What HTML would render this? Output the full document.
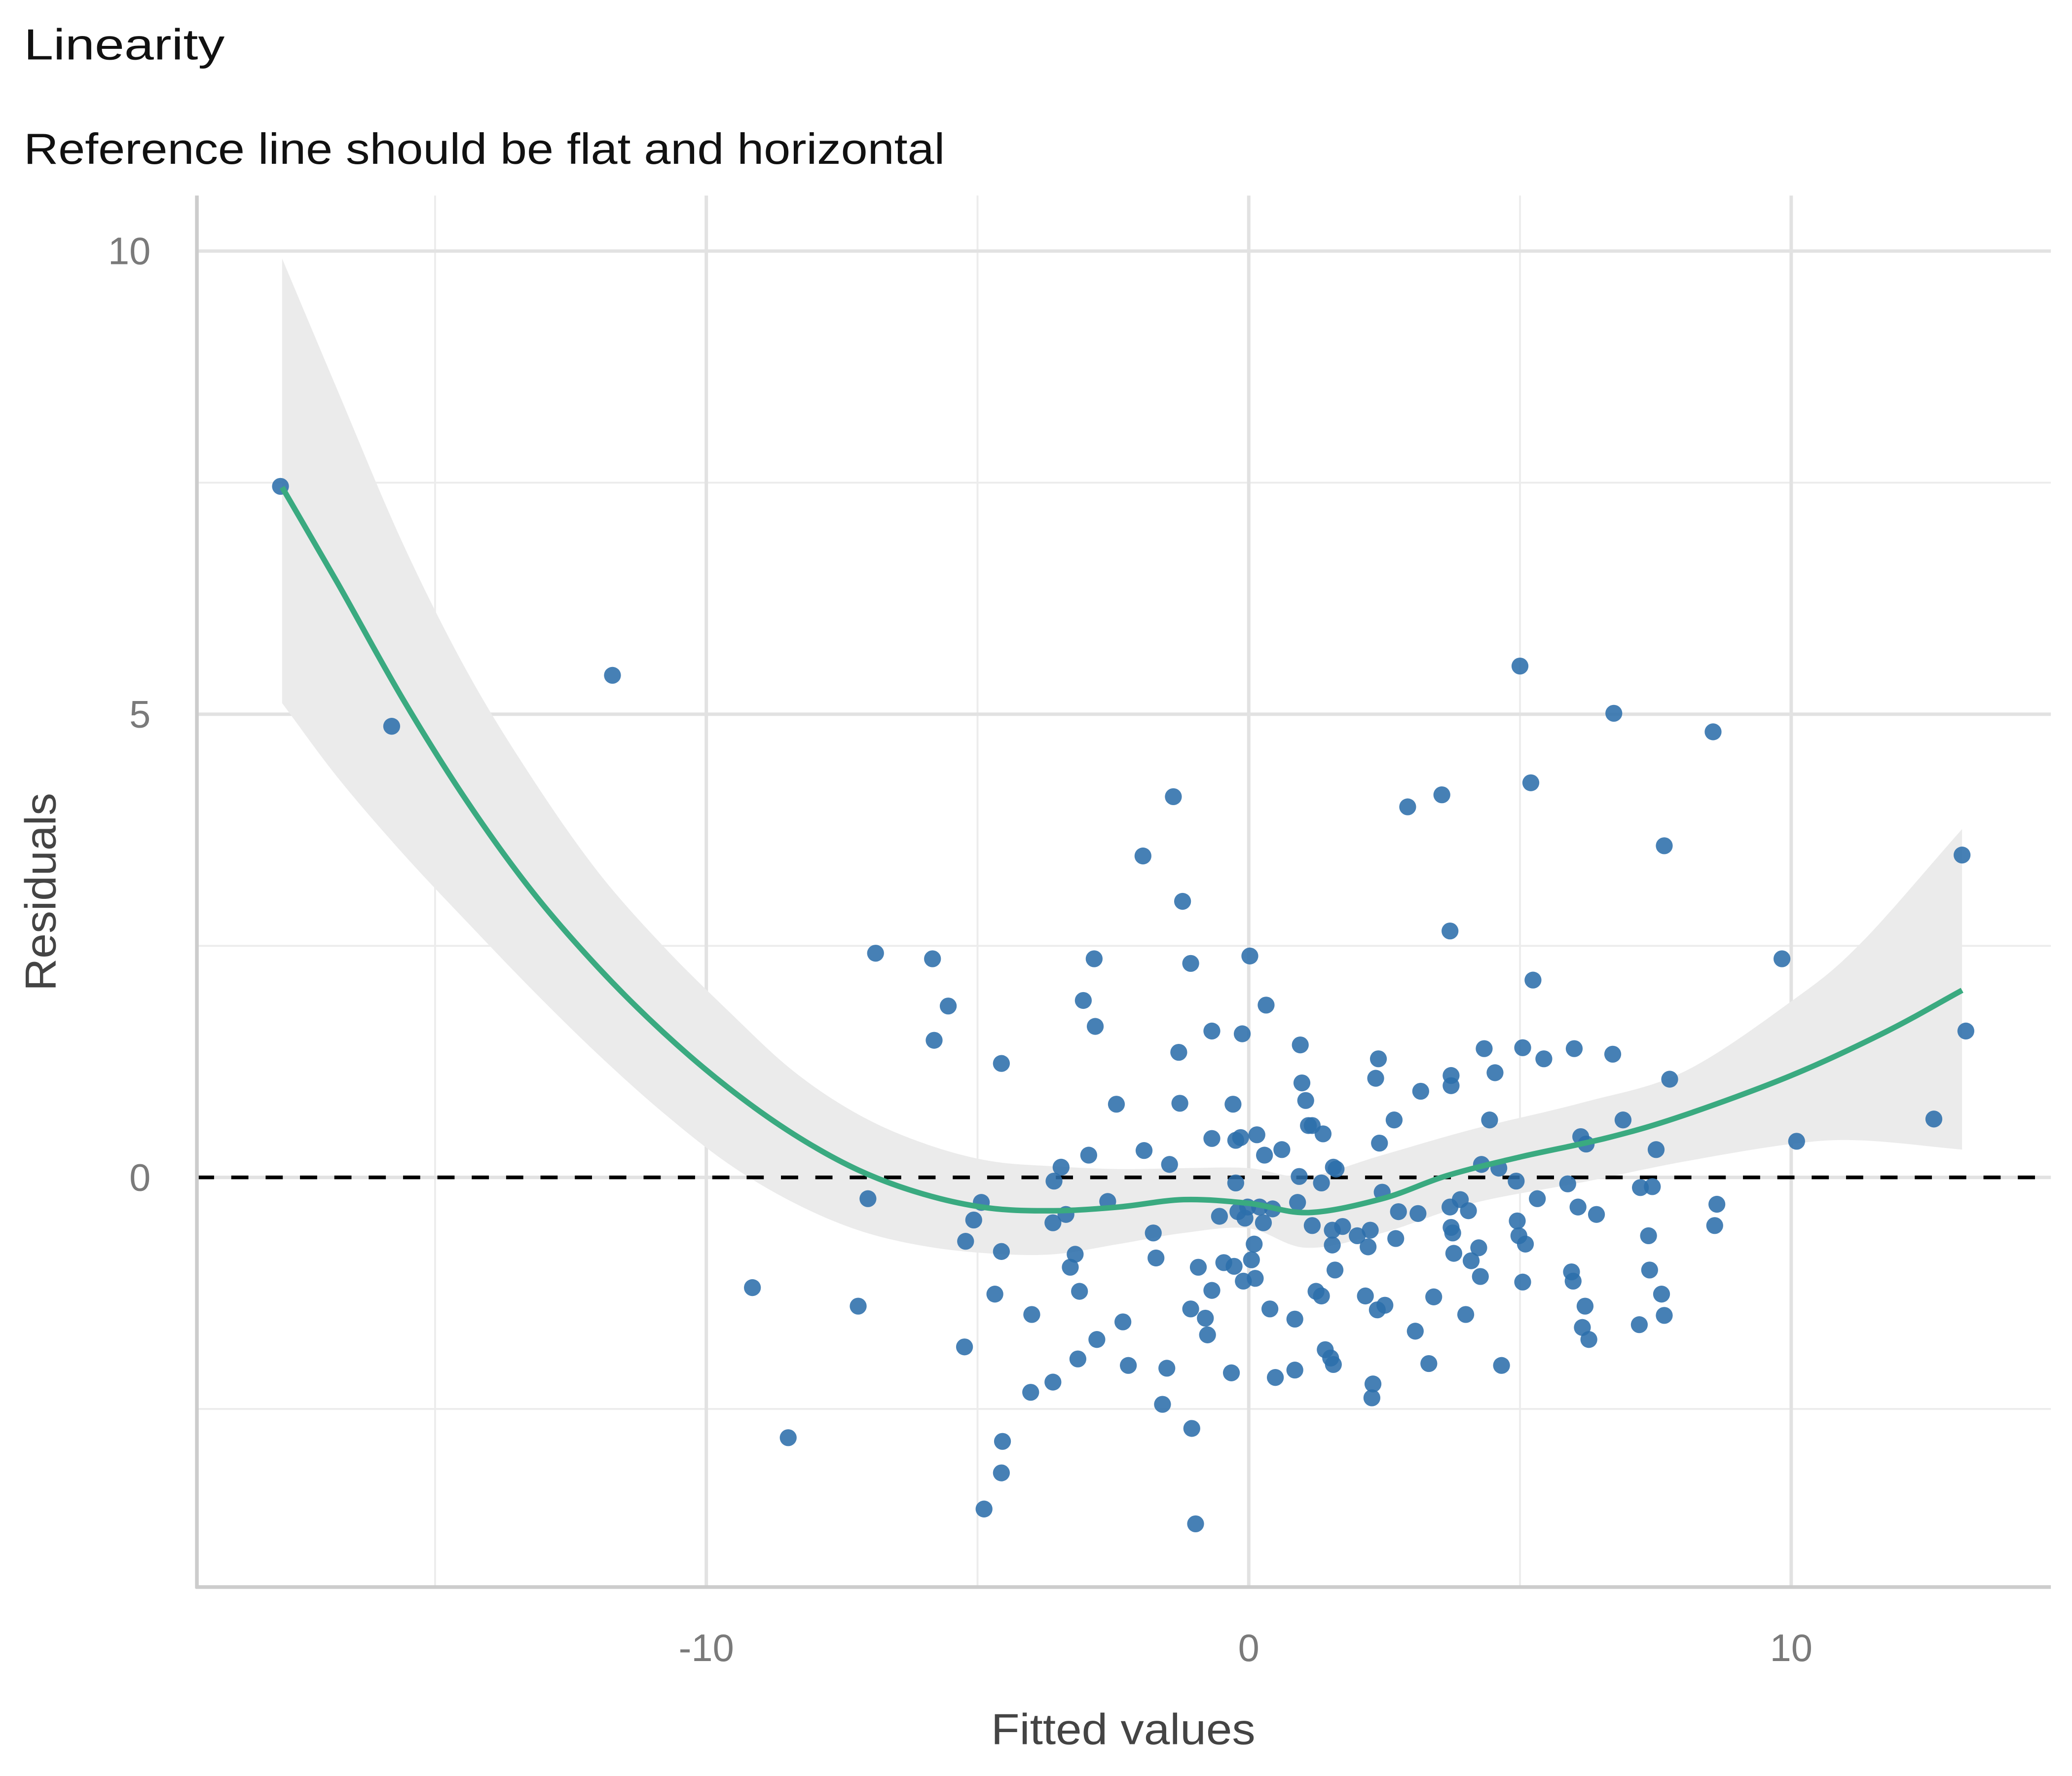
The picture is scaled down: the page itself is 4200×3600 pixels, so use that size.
<!DOCTYPE html>
<html><head><meta charset="utf-8"><style>
html,body{margin:0;padding:0;background:#fff}
svg{display:block;font-family:"Liberation Sans","DejaVu Sans",sans-serif}
</style></head><body>
<svg id="chart" width="4200" height="3600" viewBox="0 0 1568 1344" xmlns="http://www.w3.org/2000/svg">
<rect width="1568" height="1344" fill="#fff"/>
<text x="18" y="45" font-size="33" fill="#111" textLength="152" lengthAdjust="spacingAndGlyphs">Linearity</text>
<text x="18" y="124" font-size="33" fill="#111" textLength="697" lengthAdjust="spacingAndGlyphs">Reference line should be flat and horizontal</text>
<g id="grid"></g>
<g id="band"></g>
<g id="ref"></g>
<g id="pts"></g>
<g id="fit"></g>
<g id="axes"></g>
<text x="850" y="1320" font-size="33" fill="#444" text-anchor="middle" textLength="200" lengthAdjust="spacingAndGlyphs">Fitted values</text>
<text x="0" y="0" font-size="33" fill="#444" text-anchor="middle" textLength="150" lengthAdjust="spacingAndGlyphs" transform="translate(42,675) rotate(-90)">Residuals</text>
</svg>
<script>
const ptX=[-17.85,-15.8,-11.73,-9.15,-8.49,-7.2,-7.02,-6.88,-5.83,-5.54,-5.8,-5.24,-5.22,-5.07,-4.93,-4.88,-4.68,-4.56,-4.56,-4.54,-4.56,-4.02,-4.0,-3.61,-3.61,-3.59,-3.46,-3.37,-3.29,-3.2,-3.15,-3.12,-3.05,-2.95,-2.85,-2.83,-2.8,-2.6,-2.44,-2.32,-2.22,-1.95,-1.93,-1.76,-1.71,-1.59,-1.51,-1.46,-1.39,-1.29,-1.27,-1.22,-1.07,-1.07,-1.05,-0.98,-0.93,-0.8,-0.76,-0.68,-0.68,-0.68,-0.54,-0.46,-0.32,-0.29,-0.27,-0.24,-0.24,-0.2,-0.15,-0.12,-0.1,-0.07,-0.02,0.02,0.05,0.1,0.12,0.15,0.2,0.27,0.29,0.32,0.39,0.44,0.49,0.61,0.85,0.85,0.9,0.93,0.95,0.98,1.05,1.1,1.17,1.17,1.24,1.34,1.34,1.37,1.41,1.51,1.54,1.54,1.56,1.56,1.59,1.61,1.73,2.0,2.15,2.2,2.24,2.27,2.29,2.34,2.37,2.39,2.41,2.46,2.51,2.68,2.71,2.76,2.93,3.07,3.12,3.17,3.32,3.41,3.56,3.71,3.71,3.73,3.73,3.73,3.76,3.78,3.9,4.0,4.05,4.1,4.24,4.27,4.29,4.34,4.44,4.54,4.61,4.66,4.93,4.95,4.98,5.0,5.05,5.05,5.1,5.2,5.24,5.32,5.44,5.88,5.95,5.98,6.0,6.07,6.12,6.15,6.2,6.22,6.27,6.41,6.73,6.71,6.9,7.2,7.22,7.37,7.39,7.44,7.51,7.61,7.66,7.66,7.76,8.59,8.56,8.63,9.83,10.1,12.63,13.15,13.22];
const ptY=[7.46,4.87,5.42,-1.19,-2.81,-1.39,-0.23,2.42,2.36,1.85,1.48,-1.83,-0.69,-0.46,-0.27,-3.58,-1.26,1.23,-0.8,-2.85,-3.19,-2.32,-1.48,-2.21,-0.49,-0.04,0.11,-0.4,-0.97,-0.83,-1.96,-1.23,1.91,0.24,2.36,1.63,-1.75,-0.26,0.79,-1.56,-2.03,3.47,0.29,-0.6,-0.87,-2.45,-2.06,0.14,4.11,1.35,0.8,2.98,2.31,-1.42,-2.71,-3.74,-0.97,-1.52,-1.7,-1.22,0.42,1.58,-0.42,-0.92,-2.11,0.79,-0.96,-0.06,0.4,-0.37,0.43,1.55,-1.12,-0.44,-0.32,2.39,-0.89,-0.72,-1.09,0.46,-0.32,-0.49,0.24,1.86,-1.42,-0.34,-2.16,0.3,-1.53,-2.08,-0.27,0.01,1.43,1.02,0.83,0.56,0.56,-0.52,-1.23,-1.28,-0.06,0.47,-1.86,-1.95,-0.57,-0.73,-2.02,0.11,-1.0,0.09,-0.53,-0.63,-1.28,-0.75,-0.57,-2.38,-2.23,1.07,-1.43,1.28,0.37,-0.16,-1.38,0.62,-0.66,-0.37,4.0,-1.66,-0.39,0.93,-2.01,-1.29,4.13,2.66,-0.32,0.99,1.1,-0.54,-0.6,-0.82,-0.24,-1.48,-0.36,-0.9,-0.76,-1.07,0.14,1.39,0.62,1.13,0.1,-2.03,-0.04,-0.47,-0.63,5.52,1.4,-1.13,-0.72,4.26,2.13,-0.23,1.28,-0.07,-1.02,-1.12,1.39,-0.32,0.44,-1.62,-1.39,0.36,-1.75,-0.4,5.01,1.33,0.62,-1.59,-0.11,-0.63,-1.0,-0.1,0.3,-1.26,3.58,-1.49,1.06,-0.52,4.81,-0.29,2.36,0.39,0.63,3.48,1.58];
const fitX=[-17.82,-16.8,-15.6,-14.4,-13.2,-12.0,-10.8,-9.6,-8.4,-7.2,-6.0,-4.8,-3.6,-2.4,-1.2,0,1.1,2.46,3.66,5,6.63,8.02,10,11.74,13.15];
const fitY=[7.45,6.42,5.17,4.05,3.08,2.27,1.57,0.97,0.47,0.08,-0.18,-0.33,-0.36,-0.32,-0.24,-0.28,-0.38,-0.23,0.02,0.22,0.43,0.67,1.1,1.57,2.02];
const bandX=[-17.82,-16.8,-15.6,-14.4,-13.2,-12.0,-10.8,-9.6,-8.4,-7.2,-6.0,-4.8,-3.6,-2.4,-1.2,0,1.07,2.46,4.13,6.17,8.02,10,11.27,13.15];
const bandUpper=[9.92,8.5,6.85,5.45,4.3,3.3,2.5,1.8,1.15,0.68,0.37,0.18,0.12,0.09,0.1,0.1,0.01,0.24,0.52,0.81,1.14,1.9,2.52,3.76];
const bandLower=[5.12,4.32,3.5,2.75,2.02,1.33,0.7,0.15,-0.27,-0.57,-0.74,-0.82,-0.83,-0.72,-0.6,-0.55,-0.76,-0.6,-0.28,-0.05,0.17,0.36,0.4,0.3];
const xTicks=[-10,0,10], xMinor=[-15,-5,5];
const yTicks=[0,5,10], yMinor=[-2.5,2.5,7.5];
const xTickLabels=["-10","0","10"], yTickLabels=["0","5","10"];

const NS="http://www.w3.org/2000/svg";
const L=149,R=1552,T=148,B=1201;
const sx=v=>945+v*41.05, sy=v=>891-v*70.1;
function mk(tag,attrs,parent){const e=document.createElementNS(NS,tag);for(const k in attrs)e.setAttribute(k,attrs[k]);parent.appendChild(e);return e;}
function smooth(pts){const n=pts.length;const ext=[[2*pts[0][0]-pts[1][0],2*pts[0][1]-pts[1][1]],...pts,[2*pts[n-1][0]-pts[n-2][0],2*pts[n-1][1]-pts[n-2][1]]];
let d="M"+pts[0][0]+","+pts[0][1];for(let i=1;i<ext.length-2;i++){const p0=ext[i-1],p1=ext[i],p2=ext[i+1],p3=ext[i+2];d+=" C"+(p1[0]+(p2[0]-p0[0])/6)+","+(p1[1]+(p2[1]-p0[1])/6)+" "+(p2[0]-(p3[0]-p1[0])/6)+","+(p2[1]-(p3[1]-p1[1])/6)+" "+p2[0]+","+p2[1];}return d;}
const grid=document.getElementById('grid');
xMinor.forEach(v=>{const e=mk('line',{x1:sx(v),x2:sx(v),y1:T,y2:B,stroke:'#ececec','stroke-width':1.4},grid);});
yMinor.forEach(v=>{const e=mk('line',{x1:L,x2:R,y1:sy(v),y2:sy(v),stroke:'#ececec','stroke-width':1.4},grid);});
xTicks.forEach((v,i)=>{const e=mk('line',{x1:sx(v),x2:sx(v),y1:T,y2:B,stroke:'#e2e2e2','stroke-width':2.6},grid);
const t=mk('text',{x:sx(v),y:1257,'font-size':29,fill:'#7a7a7a','text-anchor':'middle'},grid);t.textContent=xTickLabels[i];});
yTicks.forEach((v,i)=>{const e=mk('line',{x1:L,x2:R,y1:sy(v),y2:sy(v),stroke:'#e2e2e2','stroke-width':2.6},grid);
const t=mk('text',{x:114,y:sy(v)+10,'font-size':29,fill:'#7a7a7a','text-anchor':'end'},grid);t.textContent=yTickLabels[i];});
const up=bandX.map((x,i)=>[sx(x),sy(bandUpper[i])]);
const lo=bandX.map((x,i)=>[sx(x),sy(bandLower[i])]).reverse();
const dl=smooth(lo).replace(/^M/,"L");
const b=mk('path',{d:smooth(up)+" "+dl+" Z",fill:'#ebebeb'},document.getElementById('band'));

const r=mk('line',{x1:L,x2:R,y1:sy(0),y2:sy(0),stroke:'#000','stroke-width':2.8,'stroke-dasharray':'13,13'},document.getElementById('ref'));

const pg=document.getElementById('pts');
ptX.forEach((x,i)=>{const c=mk('circle',{cx:sx(x),cy:sy(ptY[i]),r:6.4,fill:'#2c6eab','fill-opacity':0.88},pg);});
const f=mk('path',{d:smooth(fitX.map((x,i)=>[sx(x),sy(fitY[i])])),fill:'none',stroke:'#3aaa80','stroke-width':4.2},document.getElementById('fit'));

const ax=document.getElementById('axes');
const a1=mk('line',{x1:L,x2:L,y1:T,y2:B+1,stroke:'#cccccc','stroke-width':2.8},ax);
const a2=mk('line',{x1:L-1,x2:R,y1:B,y2:B,stroke:'#cccccc','stroke-width':2.8},ax);
</script>
</body></html>
